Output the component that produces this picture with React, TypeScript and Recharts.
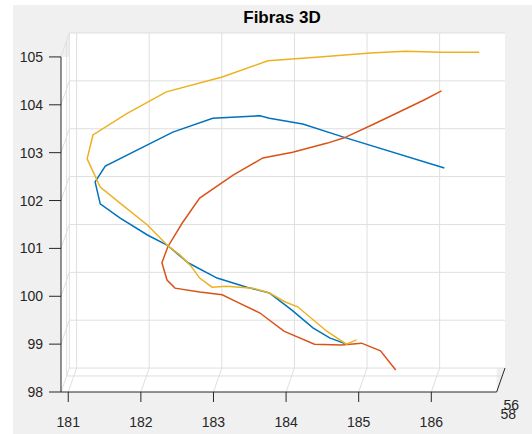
import React from 'react';
import { LineChart, Line, XAxis, YAxis, ReferenceLine, ReferenceArea, ReferenceDot } from 'recharts';

// axis ticks
const xTicks = [181, 182, 183, 184, 185, 186];
const yTicks = [98, 99, 100, 101, 102, 103, 104, 105];
const zTickLabels = ['56', '58'];

// projected fibre paths (x, y)
const fibra1 = [
    { x: 186.18, y: 102.68 }, { x: 184.78, y: 103.33 }, { x: 184.23, y: 103.6 }, { x: 183.77, y: 103.72 },
    { x: 183.64, y: 103.77 }, { x: 182.99, y: 103.72 }, { x: 182.44, y: 103.43 }, { x: 181.51, y: 102.72 },
    { x: 181.37, y: 102.39 }, { x: 181.44, y: 101.93 }, { x: 181.71, y: 101.64 }, { x: 182.09, y: 101.28 },
    { x: 182.36, y: 101.07 }, { x: 182.65, y: 100.7 }, { x: 183.05, y: 100.38 }, { x: 183.46, y: 100.19 },
    { x: 183.77, y: 100.07 }, { x: 183.9, y: 99.92 }, { x: 184.08, y: 99.71 }, { x: 184.37, y: 99.34 },
    { x: 184.6, y: 99.13 }, { x: 184.83, y: 99.0 },
];

const fibra2 = [
    { x: 186.14, y: 104.29 }, { x: 185.9, y: 104.1 }, { x: 185.24, y: 103.62 }, { x: 184.8, y: 103.31 },
    { x: 184.57, y: 103.2 }, { x: 184.09, y: 103.01 }, { x: 183.68, y: 102.89 }, { x: 183.27, y: 102.53 },
    { x: 182.81, y: 102.05 }, { x: 182.57, y: 101.53 }, { x: 182.37, y: 101.03 }, { x: 182.29, y: 100.7 },
    { x: 182.36, y: 100.34 }, { x: 182.47, y: 100.17 }, { x: 182.81, y: 100.09 }, { x: 183.12, y: 100.03 },
    { x: 183.27, y: 99.92 }, { x: 183.64, y: 99.65 }, { x: 183.97, y: 99.27 }, { x: 184.39, y: 99.0 },
    { x: 184.76, y: 98.98 }, { x: 185.04, y: 99.02 }, { x: 185.3, y: 98.86 }, { x: 185.51, y: 98.46 },
];

const fibra3 = [
    { x: 186.66, y: 105.1 }, { x: 186.14, y: 105.1 }, { x: 185.64, y: 105.12 }, { x: 185.16, y: 105.08 },
    { x: 184.46, y: 105.0 }, { x: 183.75, y: 104.92 }, { x: 183.12, y: 104.58 }, { x: 182.35, y: 104.27 },
    { x: 181.8, y: 103.81 }, { x: 181.34, y: 103.37 }, { x: 181.26, y: 102.87 }, { x: 181.44, y: 102.28 },
    { x: 181.76, y: 101.89 }, { x: 182.09, y: 101.49 }, { x: 182.36, y: 101.07 }, { x: 182.54, y: 100.86 },
    { x: 182.68, y: 100.65 }, { x: 182.81, y: 100.38 }, { x: 182.98, y: 100.19 }, { x: 183.18, y: 100.21 },
    { x: 183.54, y: 100.17 }, { x: 183.77, y: 100.07 }, { x: 183.99, y: 99.88 }, { x: 184.16, y: 99.78 },
    { x: 184.56, y: 99.27 }, { x: 184.83, y: 99.0 }, { x: 184.97, y: 99.09 },
];

// box geometry in data units: front face limits and the shift of the back face
const X0 = 180.9;
const X1 = 186.9;
const Y0 = 98;
const Y1 = 105;
const DX = 0.115;
const DY = 0.5;

const AXIS = '#262626';
const GRID = '#dfdfdf';
const FONT = '"Liberation Sans", Arial, Helvetica, sans-serif';

const seg = (ax: number, ay: number, bx: number, by: number) => [{ x: ax, y: ay }, { x: bx, y: by }];

const App = () => {
    return (
        <div style={{ position: 'absolute', left: 0, top: 0, width: 532, height: 434, background: '#fff', fontFamily: FONT }}>
            <div style={{ position: 'absolute', left: 13, top: 5, right: 0, bottom: 0, background: '#f0f0f0' }} />
            <div
                style={{
                    position: 'absolute', left: 182, top: 8, width: 200, textAlign: 'center',
                    fontSize: 17, fontWeight: 'bold', color: '#000',
                }}
            >
                Fibras 3D
            </div>
            <div style={{ position: 'absolute', left: 0, top: 0 }}>
                <LineChart width={532} height={434} margin={{ top: 33, right: 27, bottom: 0, left: 0 }}>
                    <XAxis
                        type="number"
                        dataKey="x"
                        domain={[X0, X1 + DX]}
                        ticks={xTicks}
                        interval={0}
                        axisLine={false}
                        tickSize={10}
                        tickMargin={15}
                        height={42}
                        tickLine={{ stroke: AXIS }}
                        tick={{ fill: AXIS, fontSize: 14, fontFamily: FONT }}
                    />
                    <YAxis
                        type="number"
                        domain={[Y0, Y1 + DY]}
                        ticks={yTicks}
                        interval={0}
                        axisLine={false}
                        tickSize={12}
                        tickMargin={6}
                        width={61}
                        tickLine={{ stroke: AXIS }}
                        tick={{ fill: AXIS, fontSize: 14, fontFamily: FONT }}
                    />

                    {/* white faces: front slab and back wall */}
                    <ReferenceArea x1={X0} x2={X1} y1={Y0} y2={Y1} fill="#fff" fillOpacity={1} stroke="none" ifOverflow="visible" />
                    <ReferenceArea x1={X0 + DX} x2={X1 + DX} y1={Y0 + DY} y2={Y1 + DY} fill="#fff" fillOpacity={1} stroke="none" ifOverflow="visible" />

                    {/* back wall grid */}
                    {xTicks.map((t) => (
                        <ReferenceLine key={`bx${t}`} segment={seg(t + DX, Y0 + DY, t + DX, Y1 + DY)} stroke={GRID} ifOverflow="visible" />
                    ))}
                    {yTicks.map((t) => (
                        <ReferenceLine key={`by${t}`} segment={seg(X0 + DX, t + DY, X1 + DX, t + DY)} stroke={GRID} ifOverflow="visible" />
                    ))}
                    <ReferenceLine segment={seg(X0 + DX, Y0 + DY, X0 + DX, Y1 + DY)} stroke={GRID} ifOverflow="visible" />

                    {/* side wall and floor */}
                    {yTicks.map((t) => (
                        <ReferenceLine key={`sy${t}`} segment={seg(X0, t, X0 + DX, t + DY)} stroke={GRID} ifOverflow="visible" />
                    ))}
                    {xTicks.map((t) => (
                        <ReferenceLine key={`fx${t}`} segment={seg(t, Y0, t + DX, Y0 + DY)} stroke={GRID} ifOverflow="visible" />
                    ))}
                    <ReferenceLine segment={seg(X0 + DX * 0.67, Y0 + DY * 0.67, X1 + DX * 0.67, Y0 + DY * 0.67)} stroke={GRID} ifOverflow="visible" />
                    <ReferenceLine segment={seg(X0 + DX * 0.67, Y0 + DY * 0.67, X0 + DX * 0.67, Y1 + DY * 0.67)} stroke={GRID} ifOverflow="visible" />

                    {/* front axis lines and depth axis */}
                    <ReferenceLine segment={seg(X0, Y0, X0, Y1)} stroke={AXIS} ifOverflow="visible" />
                    <ReferenceLine segment={seg(X0, Y0, X1, Y0)} stroke={AXIS} ifOverflow="visible" />
                    <ReferenceLine segment={seg(X1, Y0, X1 + DX, Y0 + DY)} stroke={AXIS} ifOverflow="visible" />
                    <ReferenceDot
                        x={187.1}
                        y={97.73}
                        r={0}
                        fill="none"
                        stroke="none"
                        ifOverflow="visible"
                        label={{ value: zTickLabels[0], position: 'center', fill: AXIS, fontSize: 14, fontFamily: FONT }}
                    />
                    <ReferenceDot
                        x={187.06}
                        y={97.54}
                        r={0}
                        fill="none"
                        stroke="none"
                        ifOverflow="visible"
                        label={{ value: zTickLabels[1], position: 'center', fill: AXIS, fontSize: 14, fontFamily: FONT }}
                    />

                    <Line data={fibra1} dataKey="y" type="linear" stroke="#0072BD" strokeWidth={1.5} dot={false} isAnimationActive={false} />
                    <Line data={fibra2} dataKey="y" type="linear" stroke="#D95319" strokeWidth={1.5} dot={false} isAnimationActive={false} />
                    <Line data={fibra3} dataKey="y" type="linear" stroke="#EDB120" strokeWidth={1.5} dot={false} isAnimationActive={false} />
                </LineChart>
            </div>
        </div>
    );
};

export default App;
